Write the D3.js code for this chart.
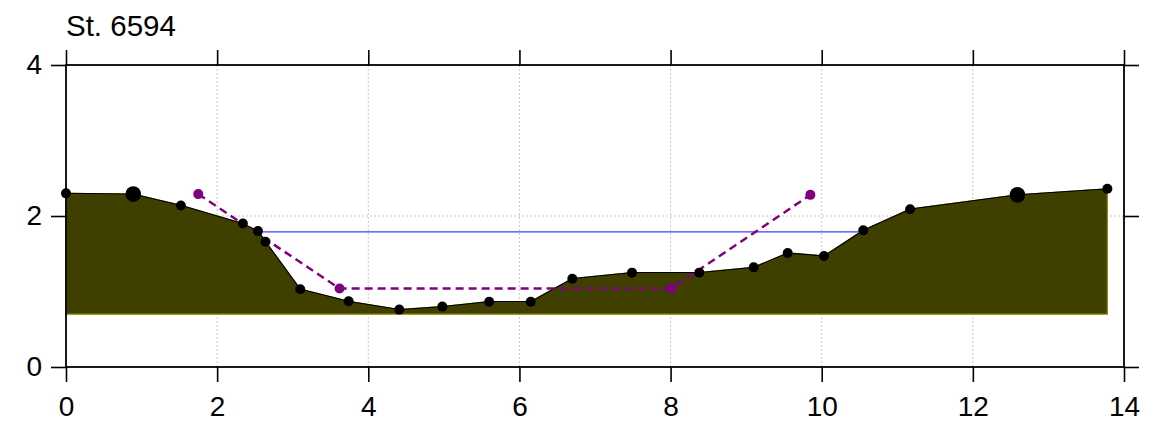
<!DOCTYPE html>
<html>
<head>
<meta charset="utf-8">
<script src="https://cdn.jsdelivr.net/npm/d3@7"></script>
<style>
  html, body { margin: 0; padding: 0; background: #fff; }
  svg { display: block; font-family: "Liberation Sans", Arial, sans-serif; }
</style>
</head>
<body>
<svg id="chart" width="1150" height="422"></svg>
<script>
// Surveyed cross-section, station 6594 (distance m, elevation m)
const stationX = [0, 0.89, 1.52, 2.34, 2.54, 2.64, 3.10, 3.74, 4.41, 4.98, 5.60, 6.15, 6.70, 7.49, 8.38, 9.10, 9.55, 10.03, 10.55, 11.17, 12.59, 13.78];
const elevation = [2.30, 2.29, 2.14, 1.90, 1.80, 1.66, 1.03, 0.87, 0.76, 0.80, 0.865, 0.865, 1.17, 1.25, 1.25, 1.32, 1.51, 1.47, 1.81, 2.09, 2.28, 2.36];

// Bank markers
const bankX = [0.89, 12.59];
const bankY = [2.29, 2.28];

// Datum for the shaded section
const datum = 0.70;

// Water surface
const waterLevel = 1.79;
const waterExtent = [2.54, 10.55];

// Design channel
const designX = [1.75, 3.62, 8.01, 9.85];
const designY = [2.29, 1.04, 1.04, 2.28];

const xTicks = [0, 2, 4, 6, 8, 10, 12, 14];
const yTicks = [0, 2, 4];
const title = "St. 6594";

const svg = d3.select("#chart");
const W = 1150, H = 422;
const m = { left: 66, right: 26, top: 65, bottom: 55 };

const x = d3.scaleLinear().domain([0, 14]).range([m.left, W - m.right]);
const y = d3.scaleLinear().domain([0, 4]).range([H - m.bottom, m.top]);

// grid
const grid = svg.append("g").attr("stroke", "#c8c8c8").attr("stroke-width", 1).attr("stroke-dasharray", "2,2");
xTicks.filter(t => t > 0 && t < 14).forEach(t => {
  grid.append("line").attr("x1", x(t)).attr("x2", x(t)).attr("y1", y(0)).attr("y2", y(4));
});
yTicks.filter(t => t > 0 && t < 4).forEach(t => {
  grid.append("line").attr("x1", x(0)).attr("x2", x(14)).attr("y1", y(t)).attr("y2", y(t));
});

const profile = stationX.map((d, i) => [d, elevation[i]]);

// shaded section
const poly = profile.concat([[stationX[stationX.length - 1], datum], [stationX[0], datum]]);
svg.append("path")
  .attr("d", d3.line().x(d => x(d[0])).y(d => y(d[1]))(poly) + "Z")
  .attr("fill", "#3f3f00")
  .attr("stroke", "#8a8a00")
  .attr("stroke-width", 1.2);

// ground line
svg.append("path")
  .attr("d", d3.line().x(d => x(d[0])).y(d => y(d[1]))(profile))
  .attr("fill", "none")
  .attr("stroke", "#000")
  .attr("stroke-width", 1.3);

// water surface
svg.append("line")
  .attr("x1", x(waterExtent[0])).attr("x2", x(waterExtent[1]))
  .attr("y1", y(waterLevel)).attr("y2", y(waterLevel))
  .attr("stroke", "#4040ff").attr("stroke-width", 1.2);

// design channel
const design = designX.map((d, i) => [d, designY[i]]);
svg.append("path")
  .attr("d", d3.line().x(d => x(d[0])).y(d => y(d[1]))(design))
  .attr("fill", "none")
  .attr("stroke", "#800080")
  .attr("stroke-width", 2.5)
  .attr("stroke-dasharray", "8,5");
svg.append("g").selectAll("circle").data(design).join("circle")
  .attr("cx", d => x(d[0])).attr("cy", d => y(d[1])).attr("r", 5)
  .attr("fill", "#800080");

// survey points
svg.append("g").selectAll("circle").data(profile).join("circle")
  .attr("cx", d => x(d[0])).attr("cy", d => y(d[1])).attr("r", 5)
  .attr("fill", "#000");
svg.append("g").selectAll("circle").data(bankX.map((d, i) => [d, bankY[i]])).join("circle")
  .attr("cx", d => x(d[0])).attr("cy", d => y(d[1])).attr("r", 7.8)
  .attr("fill", "#000");

// frame with outward ticks on all sides
const tickLen = 15;
const axisStyle = g => {
  g.select(".domain").remove();
  g.selectAll(".tick line").attr("stroke", "#000").attr("stroke-width", 1.6);
  g.selectAll(".tick text").attr("fill", "#000").attr("font-size", 28).attr("font-family", "'Liberation Sans', Arial, sans-serif");
};
svg.append("g").attr("transform", `translate(0,${y(0)})`)
  .call(d3.axisBottom(x).tickValues(xTicks).tickSize(tickLen).tickPadding(14).tickFormat(d3.format("d")))
  .call(axisStyle);
svg.append("g").attr("transform", `translate(0,${y(4)})`)
  .call(d3.axisTop(x).tickValues(xTicks).tickSize(tickLen).tickFormat(""))
  .call(axisStyle);
svg.append("g").attr("transform", `translate(${x(0)},0)`)
  .call(d3.axisLeft(y).tickValues(yTicks).tickSize(tickLen).tickPadding(9).tickFormat(d3.format("d")))
  .call(axisStyle);
svg.append("g").attr("transform", `translate(${x(14)},0)`)
  .call(d3.axisRight(y).tickValues(yTicks).tickSize(tickLen).tickFormat(""))
  .call(axisStyle);

svg.append("rect")
  .attr("x", x(0)).attr("y", y(4))
  .attr("width", x(14) - x(0)).attr("height", y(0) - y(4))
  .attr("fill", "none").attr("stroke", "#000").attr("stroke-width", 1.8);

svg.append("text")
  .attr("x", x(0)).attr("y", 36)
  .attr("font-size", 29.5)
  .attr("fill", "#000")
  .text(title);
</script>
</body>
</html>
